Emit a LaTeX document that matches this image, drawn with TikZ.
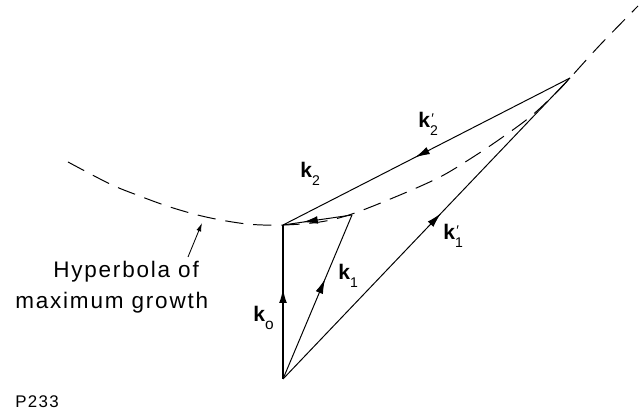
\documentclass[tikz,border=0pt]{standalone}
\usepackage{fontspec}
\setmainfont{Liberation Sans}
\newfontfamily\capfont[LetterSpace=8]{Liberation Sans}
\usetikzlibrary{decorations.markings,arrows.meta}
\newcommand\kv[2][10]{\textbf{k}\raisebox{-5pt}{\fontsize{#1}{#1}\selectfont #2}}
\newcommand\kvp[1]{\textbf{k}\rlap{\raisebox{-5pt}{\fontsize{10}{10}\selectfont #1}}\kern1pt\raisebox{3pt}{\fontsize{10}{10}\selectfont\char"2032}}
\tikzset{
  vec/.style={line width=0.7pt},
  midarrow/.style={postaction={decorate},decoration={markings,mark=at position #1 with {\arrow{Latex[length=10.5pt,width=5.5pt]}}}},
  hyper/.style={line width=0.7pt, dash pattern=on 13pt off 7pt},
  lbl/.style={inner sep=0pt, anchor=base west, font=\fontsize{15}{15}\selectfont},
  captext/.style={inner sep=0pt, anchor=base west, font=\capfont\fontsize{16}{16}\selectfont},
}
\begin{document}
\begin{tikzpicture}[x=0.025cm, y=-0.025cm]
\useasboundingbox (0,0) rectangle (640,418);
\coordinate (O) at (283,379);
\coordinate (A) at (283,225);
\coordinate (B) at (352,215);
\coordinate (C) at (570,78);
\coordinate (ptail) at (188,257);
\coordinate (phead) at (202,223);
% hyperbola
\draw[hyper] plot[smooth, tension=0.55] coordinates {(68,162) (110,184) (137,195) (170,207) (206,217) (247,224) (283,225) (320,222) (352,214) (400,195) (440,177) (470,159) (500,139) (530,117) (555,94) (570,78) (600,45) (638,6)};
% vectors
\draw[line width=1.4pt, midarrow=0.59] (O) -- (A);
\draw[vec, midarrow=0.61] (O) -- (B);
\draw[vec, midarrow=0.55] (O) -- (C);
\draw[vec, midarrow=0.71] (B) -- (A);
\draw[vec, midarrow=0.54] (C) -- (A);
% pointer
\draw[line width=0.6pt, -{Latex[length=6pt,width=3.5pt]}] (ptail) -- (phead);
% labels
\node[lbl] (lk0) at (253,322) {\kv[11]{o}};
\node[lbl] (lk1) at (338,280) {\kv{1}};
\node[lbl] (lk2) at (300,178) {\kv{2}};
\node[lbl] (lk2p) at (418,128) {\kvp{2}};
\node[lbl] (lk1p) at (443,240) {\kvp{1}};
\node[captext] (t1) at (53,278) {Hyperbola of};
\node[captext] (t2) at (15,309) {maximum growth};
\node[inner sep=0pt, anchor=base west, font=\capfont\fontsize{12}{12}\selectfont] (p) at (15,408) {P233};
\end{tikzpicture}
\end{document}
